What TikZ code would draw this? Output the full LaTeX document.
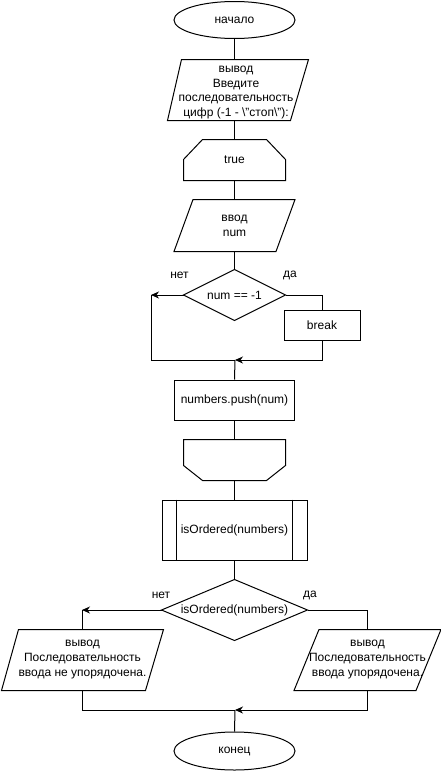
\documentclass[tikz,border=0pt]{standalone}
\usepackage{fontspec}
\setmainfont{Liberation Sans}
\usetikzlibrary{arrows.meta,shapes.geometric}
\begin{document}
\begin{tikzpicture}[x=1pt,y=-1pt, line width=1pt,
 txt/.style={font=\fontsize{12}{15}\selectfont, align=center, inner sep=0pt, text=black},
 term/.style={txt, draw, ellipse, minimum width=121, minimum height=37},
 proc/.style={txt, draw, minimum width=#1, minimum height=40},
 arr/.style={-{Stealth[length=8pt,width=7pt,inset=2.5pt]}}
]
\useasboundingbox (0,0) rectangle (441,771);

% start
\node[term] (start) at (234.5,20) {начало};

% output 1
\node[txt, minimum width=142, minimum height=60] (out1) at (237,90) {};
\draw ([xshift=16]out1.north west) -- (out1.north east) -- ([xshift=-18]out1.south east) -- ([xshift=2]out1.south west) -- cycle;
\node[txt, font=\fontsize{12}{14.5}\selectfont] (out1t) at (236,92.5)
  {вывод\\Введите\\последовательность\\цифр (-1 - \textbackslash{}"стоп\textbackslash{}"):};

% loop start
\node[txt, minimum width=101, minimum height=40] (lp) at (234.5,160) {true};
\draw (lp.south west) -- ([yshift=-20]lp.north west) -- ([xshift=19]lp.north west) -- ([xshift=-19]lp.north east) -- ([yshift=-20]lp.north east) -- (lp.south east) -- cycle;

% input
\node[txt, minimum width=120, minimum height=51] (in1) at (234.5,225.5) {ввод\\num};
\draw ([xshift=19]in1.north west) -- (in1.north east) -- ([xshift=-19]in1.south east) -- (in1.south west) -- cycle;

% decision 1
\node[txt, minimum width=101, minimum height=50] (d1) at (234.5,295) {num == -1};
\draw (d1.north) -- (d1.east) -- (d1.south) -- (d1.west) -- cycle;
\node[txt] (no1) at (179.5,275) {нет};
\node[txt] (yes1) at (290,275) {да};

% break
\node[txt, draw, minimum width=76, minimum height=30] (brk) at (322,325.5) {break};

\coordinate (lpL) at (151,295);
\coordinate (j1) at (235,360);

% push
\node[proc=120] (push) at (234.5,400) {numbers.push(num)};

% loop end
\node[txt, minimum width=101, minimum height=40] (le) at (234.5,460) {};
\draw (le.north west) -- (le.north east) -- ([yshift=15]le.south east) -- ([xshift=-19]le.south east) -- ([xshift=19]le.south west) -- ([yshift=15]le.south west) -- cycle;

% subprocess
\node[txt, draw, minimum width=145, minimum height=60] (sub) at (234.5,530) {isOrdered(numbers)};
\draw ([xshift=15]sub.north west) -- ([xshift=15]sub.south west);
\draw ([xshift=-15]sub.north east) -- ([xshift=-15]sub.south east);

% decision 2
\node[txt, minimum width=145, minimum height=60] (d2) at (234.5,610) {isOrdered(numbers)};
\draw (d2.north) -- (d2.east) -- (d2.south) -- (d2.west) -- cycle;
\node[txt] (no2) at (161,595) {нет};
\node[txt] (yes2) at (310,595) {да};

% outputs
\node[txt, minimum width=161, minimum height=60] (outN) at (82.5,660)
  {вывод\\Последовательность\\ввода не упорядочена.};
\draw ([xshift=17]outN.north west) -- (outN.north east) -- ([xshift=-18]outN.south east) -- (outN.south west) -- cycle;
\node[txt, minimum width=146, minimum height=60] (outY) at (367.5,660)
  {вывод\\Последовательность\\ввода упорядочена.};
\draw ([xshift=25]outY.north west) -- (outY.north east) -- ([xshift=-25]outY.south east) -- (outY.south west) -- cycle;

\coordinate (nL) at (82,610);
\coordinate (j2) at (235,710);

% end
\node[term, minimum height=38] (end) at (234.5,751) {конец};

% connectors
\draw (start.south) -- (out1.north -| start.south);
\draw (out1.south -| start.south) -- (lp.north);
\draw (lp.south) -- (in1.north);
\draw (in1.south) -- (d1.north);
\draw[arr] (d1.west) -- (lpL);
\draw (lpL) |- (j1);
\draw (d1.east) -| (brk.north);
\draw[arr] (brk.south) |- (j1);
\draw (j1) -- (push.north);
\draw (push.south) -- (le.north);
\draw (le.south) -- (sub.north);
\draw (sub.south) -- (d2.north);
\draw[arr] (d2.west) -- (nL);
\draw (nL) -- (outN.north -| nL);
\draw (d2.east) -| (outY.north);
\draw (outN.south -| nL) |- (j2);
\draw[arr] (outY.south) |- (j2);
\draw (j2) -- (end.north);
\end{tikzpicture}
\end{document}
